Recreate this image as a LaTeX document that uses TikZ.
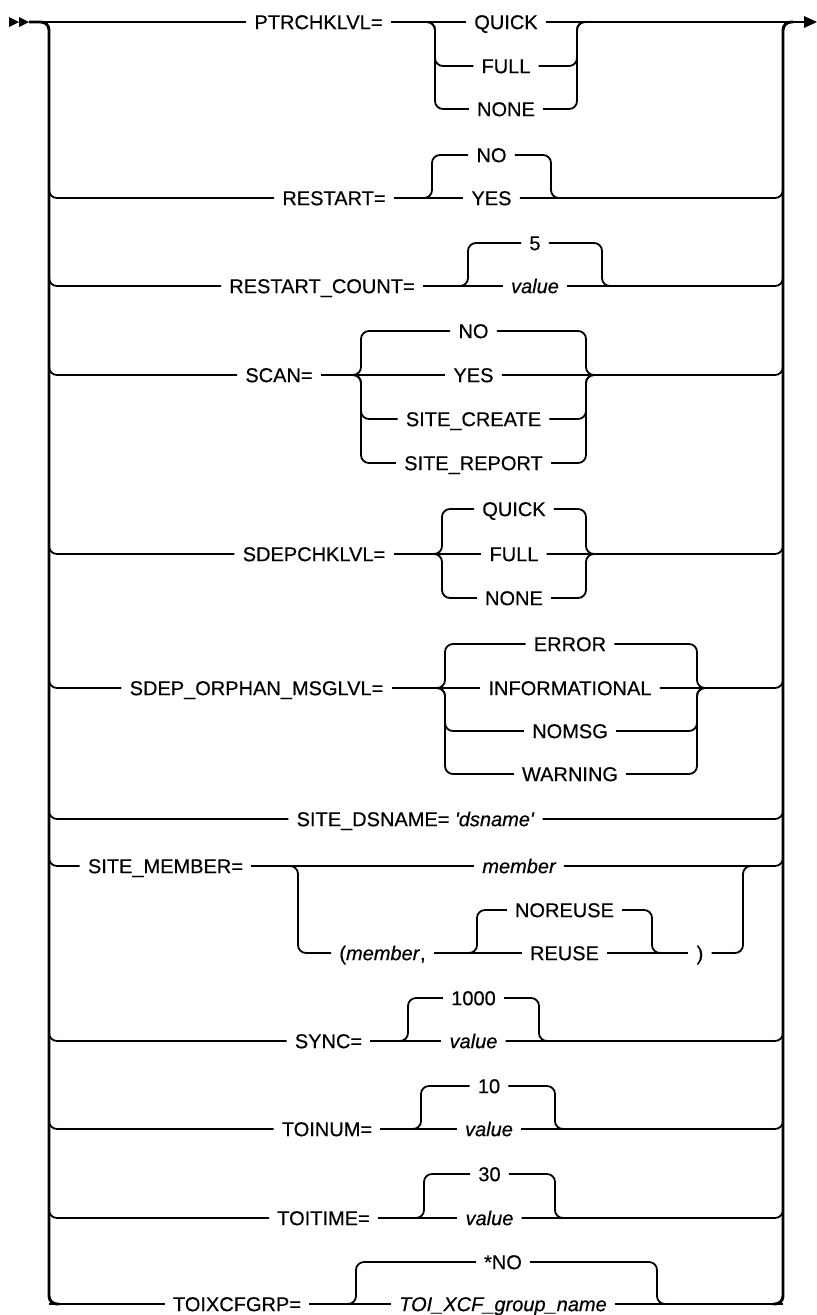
\documentclass[tikz,border=0pt]{standalone}
\usepackage{fontspec}
\setmainfont{Liberation Sans}
\newfontfamily\rfont[FakeBold=0.45]{Liberation Sans}
\usetikzlibrary{calc}
\tikzset{
  ln/.style={line width=1.35pt},
  rail/.style={line width=2.2pt},
  rc/.style={rounded corners=6pt},
  lbl/.style={font=\rfont\fontsize{15}{18}\selectfont, inner xsep=6pt, inner ysep=0pt, text height=10.7pt, text depth=0pt},
  var/.style={lbl, font=\rfont\fontsize{15}{18}\selectfont\itshape},
}
\newcommand\railL[1]{\draw[ln,rc] ($(LT|-#1)+(0,-15)$) |- (#1.west);}
\newcommand\railR[1]{\draw[ln,rc] (#1.east) -- (RT|-#1) -- ++(0,-15);}
\newcommand\brL[2]{\draw[ln,rc] ($(#1)+(-10,0)$) -- (#1) |- (#2.west);}
\newcommand\brR[2]{\draw[ln,rc] (#2.east) -| (#1) -- ++(10,0);}
\begin{document}
\begin{tikzpicture}[x=0.75pt,y=-0.75pt]
\useasboundingbox (0,0) rectangle (817,1315);
% rails and ends
\coordinate (LT) at (49,22); \coordinate (LB) at (49,1304);
\coordinate (RT) at (783,22); \coordinate (RB) at (783,1304);
\coordinate (S) at (29,22); \coordinate (E) at (804,22);
\fill (9,17) -- (19,22) -- (9,27) -- cycle;
\fill (19,17) -- (29,22) -- (19,27) -- cycle;
\fill (804,16) -- (817,22) -- (804,28) -- cycle;
\draw[rail,rc] (S) -| (LB) -- ($(LB)+(10,0)$);
\draw[rail,rc] ($(RB)+(-10,0)$) -- (RB) -- (RT) -- ($(RT)+(10,0)$);

% Row 0 PTRCHKLVL
\node[lbl] (kPTR) at (318.5,22) {PTRCHKLVL=};
\node[lbl] (ptrQ) at (506,22) {QUICK};
\node[lbl] (ptrF) at (506,66) {FULL};
\node[lbl] (ptrN) at (506,109) {NONE};
\coordinate (ptrA) at (435,22); \coordinate (ptrB) at (577,22);
\draw[ln] (S) -- (kPTR.west);
\draw[ln] (kPTR.east) -- (ptrQ.west);
\draw[ln] (ptrQ.east) -- (E);
\brL{ptrA}{ptrF} \brL{ptrA}{ptrN}
\brR{ptrB}{ptrF} \brR{ptrB}{ptrN}

% Row 1 RESTART
\node[lbl] (kRS) at (334,198) {RESTART=};
\node[lbl] (rsNO) at (491.5,155) {NO};
\node[lbl] (rsYES) at (491.5,198) {YES};
\coordinate (rsA) at (432,198); \coordinate (rsB) at (551,198);
\railL{kRS}
\draw[ln] (kRS.east) -- (rsYES.west);
\brL{rsA}{rsNO} \brR{rsB}{rsNO}
\railR{rsYES}

% Row 2 RESTART_COUNT
\node[lbl] (kRC) at (322,286) {RESTART\_COUNT=};
\node[lbl] (rcD) at (535,243) {5};
\node[var] (rcV) at (535,286) {value};
\coordinate (rcA) at (468,286); \coordinate (rcB) at (602,286);
\railL{kRC}
\draw[ln] (kRC.east) -- (rcV.west);
\brL{rcA}{rcD} \brR{rcB}{rcD}
\railR{rcV}

% Row 3 SCAN
\node[lbl] (kSC) at (279,375) {SCAN=};
\node[lbl] (scNO) at (473.5,331) {NO};
\node[lbl] (scYES) at (473.5,375) {YES};
\node[lbl] (scSC) at (473.5,419) {SITE\_CREATE};
\node[lbl] (scSR) at (473.5,463) {SITE\_REPORT};
\coordinate (scA) at (361,375); \coordinate (scB) at (586,375);
\railL{kSC}
\draw[ln] (kSC.east) -- (scYES.west);
\brL{scA}{scNO} \brL{scA}{scSC} \brL{scA}{scSR}
\brR{scB}{scNO} \brR{scB}{scSC} \brR{scB}{scSR}
\railR{scYES}

% Row 4 SDEPCHKLVL
\node[lbl] (kSD) at (314,554) {SDEPCHKLVL=};
\node[lbl] (sdQ) at (514,509) {QUICK};
\node[lbl] (sdF) at (514,554) {FULL};
\node[lbl] (sdN) at (514,598) {NONE};
\coordinate (sdA) at (442,554); \coordinate (sdB) at (586,554);
\railL{kSD}
\draw[ln] (kSD.east) -- (sdF.west);
\brL{sdA}{sdQ} \brL{sdA}{sdN}
\brR{sdB}{sdQ} \brR{sdB}{sdN}
\railR{sdF}

% Row 5 SDEP_ORPHAN_MSGLVL
\node[lbl] (kOR) at (256.5,688) {SDEP\_ORPHAN\_MSGLVL=};
\node[lbl] (orE) at (570,644) {ERROR};
\node[lbl] (orI) at (570,688) {INFORMATIONAL};
\node[lbl] (orN) at (570,731) {NOMSG};
\node[lbl] (orW) at (570,774) {WARNING};
\coordinate (orA) at (445,688); \coordinate (orB) at (697,688);
\railL{kOR}
\draw[ln] (kOR.east) -- (orI.west);
\brL{orA}{orE} \brL{orA}{orN} \brL{orA}{orW}
\brR{orB}{orE} \brR{orB}{orN} \brR{orB}{orW}
\railR{orI}

% Row 6 SITE_DSNAME
\node[lbl] (kDS) at (415.5,819) {SITE\_DSNAME= \textit{\textquotesingle dsname\textquotesingle}};
\railL{kDS}
\railR{kDS}

% Row 7 SITE_MEMBER
\node[lbl] (kSM) at (165.5,866) {SITE\_MEMBER=};
\node[var] (smM) at (519,866) {member};
\node[lbl] (smP) at (382.5,953) {(\textit{member\/},};
\node[lbl] (smNR) at (564.5,910) {NOREUSE};
\node[lbl] (smR) at (564.5,953) {REUSE};
\node[lbl] (smC) at (700,953) {)};
\coordinate (smA) at (298,866); \coordinate (smB) at (743,866);
\coordinate (smA2) at (477,953); \coordinate (smB2) at (652,953);
\railL{kSM}
\draw[ln] (kSM.east) -- (smM.west);
\railR{smM}
\brL{smA}{smP}
\draw[ln] (smP.east) -- (smR.west);
\brL{smA2}{smNR} \brR{smB2}{smNR}
\draw[ln] (smR.east) -- (smC.west);
\brR{smB}{smC}

% Row 8 SYNC
\node[lbl] (kSY) at (328.5,1041) {SYNC=};
\node[lbl] (syD) at (473.5,998) {1000};
\node[var] (syV) at (473.5,1041) {value};
\coordinate (syA) at (408,1041); \coordinate (syB) at (539,1041);
\railL{kSY}
\draw[ln] (kSY.east) -- (syV.west);
\brL{syA}{syD} \brR{syB}{syD}
\railR{syV}

% Row 9 TOINUM
\node[lbl] (kTN) at (327,1129) {TOINUM=};
\node[lbl] (tnD) at (489,1086) {10};
\node[var] (tnV) at (489,1129) {value};
\coordinate (tnA) at (421,1129); \coordinate (tnB) at (555,1129);
\railL{kTN}
\draw[ln] (kTN.east) -- (tnV.west);
\brL{tnA}{tnD} \brR{tnB}{tnD}
\railR{tnV}

% Row 10 TOITIME
\node[lbl] (kTT) at (323.5,1218) {TOITIME=};
\node[lbl] (ttD) at (489.5,1174) {30};
\node[var] (ttV) at (489.5,1218) {value};
\coordinate (ttA) at (424,1218); \coordinate (ttB) at (555,1218);
\railL{kTT}
\draw[ln] (kTT.east) -- (ttV.west);
\brL{ttA}{ttD} \brR{ttB}{ttD}
\railR{ttV}

% Row 11 TOIXCFGRP
\node[lbl] (kTX) at (237,1304) {TOIXCFGRP=};
\node[lbl] (txD) at (503,1262) {*NO};
\node[var] (txV) at (503,1304) {TOI\_XCF\_group\_name};
\coordinate (txA) at (356,1304); \coordinate (txB) at (657,1304);
\draw[ln] (LB) -- (kTX.west);
\draw[ln] (kTX.east) -- (txV.west);
\brL{txA}{txD} \brR{txB}{txD}
\draw[ln] (txV.east) -- (RB);
\end{tikzpicture}
\end{document}
